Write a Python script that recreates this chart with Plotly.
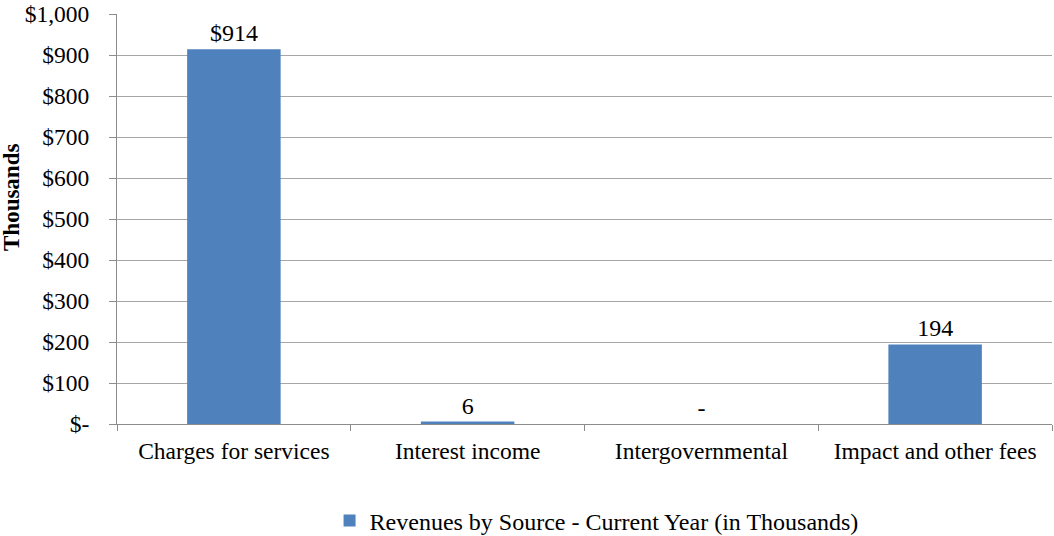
import plotly.graph_objects as go

# Revenue sources and current-year amounts (in thousands)
categories = ["Charges for services", "Interest income", "Intergovernmental", "Impact and other fees"]
revenues = [914, 6, 0, 194]
series_name = "Revenues by Source - Current Year (in Thousands)"
y_ticks = [0, 100, 200, 300, 400, 500, 600, 700, 800, 900, 1000]


def bar_label(i, v):
    if v == 0:
        return "-"
    s = f"{v:,.0f}"
    return "$" + s if i == 0 else s


def tick_label(v):
    return "$-" if v == 0 else f"${v:,}"


FONT = "Liberation Serif"
BAR_COLOR = "#4F81BD"
GRID = "#A6A6A6"
AXIS = "#8C8C8C"

fig = go.Figure(
    go.Bar(
        x=categories,
        y=revenues,
        name=series_name,
        marker=dict(color=BAR_COLOR, line=dict(width=0)),
        width=0.4,
        text=[bar_label(i, v) for i, v in enumerate(revenues)],
        textposition="outside",
        textfont=dict(family=FONT, size=24, color="black"),
        cliponaxis=False,
        showlegend=True,
    )
)

fig.update_layout(
    width=1054,
    height=536,
    margin=dict(l=117, r=2, t=14, b=112),
    paper_bgcolor="white",
    plot_bgcolor="white",
    font=dict(family=FONT, size=23, color="black"),
    showlegend=True,
    legend=dict(
        orientation="h",
        xref="container",
        yref="container",
        x=0.566,
        y=0.028,
        xanchor="center",
        yanchor="middle",
        font=dict(family=FONT, size=24, color="black"),
        itemwidth=30,
    ),
)

fig.update_xaxes(
    showline=True,
    linecolor=AXIS,
    linewidth=1,
    ticks="outside",
    tickson="boundaries",
    ticklen=6,
    tickcolor=AXIS,
    showgrid=False,
    tickfont=dict(family=FONT, size=23.5),
    ticklabelstandoff=6,
    fixedrange=True,
)

fig.update_yaxes(
    range=[0, 1000],
    tickvals=y_ticks,
    ticktext=[tick_label(v) for v in y_ticks],
    showline=True,
    linecolor=AXIS,
    linewidth=1,
    ticks="outside",
    ticklen=7,
    tickcolor=AXIS,
    showgrid=True,
    gridcolor=GRID,
    gridwidth=1,
    zeroline=False,
    tickfont=dict(family=FONT, size=23.5),
    ticklabelstandoff=15,
)

fig.add_annotation(
    text="<b>Thousands</b>",
    textangle=-90,
    xref="paper",
    yref="paper",
    x=(12 - 117) / 935,
    y=(424 - 198) / 410,
    xanchor="center",
    yanchor="middle",
    showarrow=False,
    font=dict(family=FONT, size=23, color="black"),
)

fig.write_html("out.html")
